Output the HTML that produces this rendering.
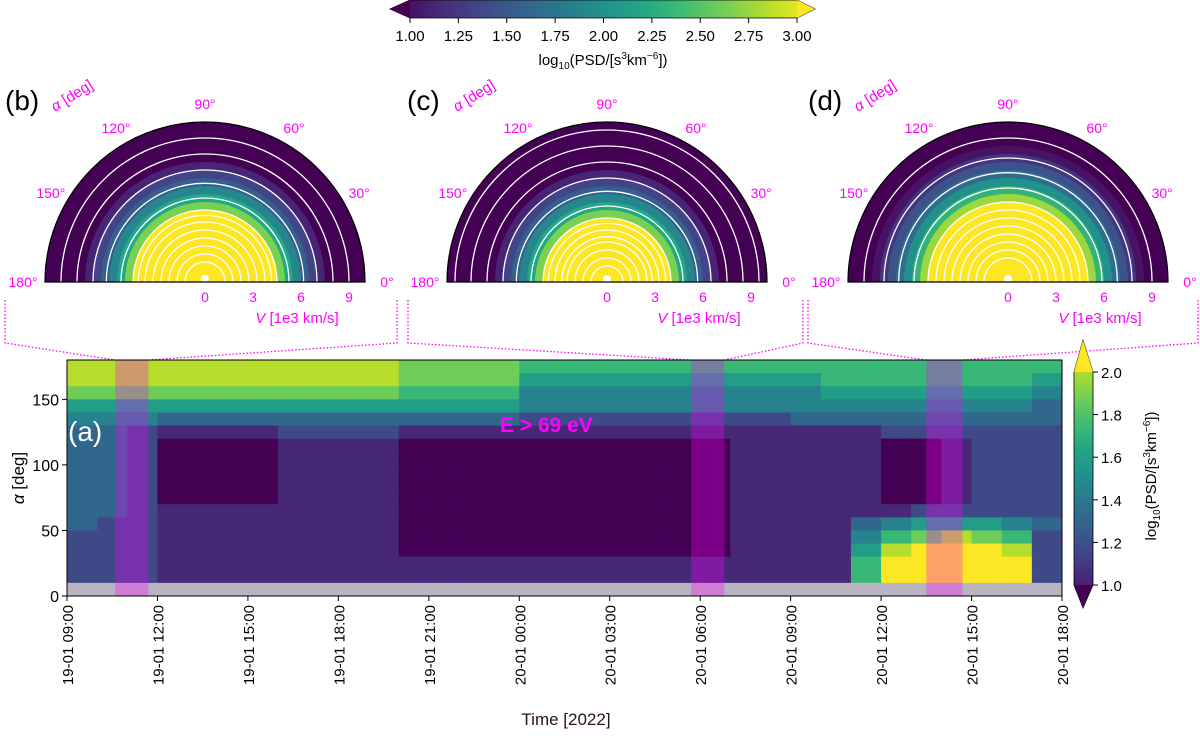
<!DOCTYPE html>
<html><head><meta charset="utf-8">
<style>
html,body{margin:0;padding:0;background:#fff;}
svg text{font-family:"Liberation Sans","DejaVu Sans",sans-serif;}
</style></head>
<body>
<svg id="fig" width="1200" height="740" viewBox="0 0 1200 740" xmlns="http://www.w3.org/2000/svg">
<defs>
<linearGradient id="vgH" x1="0" x2="1" y1="0" y2="0">
<stop offset="0" stop-color="#440154"/><stop offset="0.1" stop-color="#482475"/><stop offset="0.2" stop-color="#414487"/><stop offset="0.3" stop-color="#355f8d"/><stop offset="0.4" stop-color="#2a788e"/><stop offset="0.5" stop-color="#21918c"/><stop offset="0.6" stop-color="#22a884"/><stop offset="0.7" stop-color="#44bf70"/><stop offset="0.8" stop-color="#7ad151"/><stop offset="0.9" stop-color="#bddf26"/><stop offset="1" stop-color="#fde725"/>
</linearGradient>
<linearGradient id="vgV" x1="0" x2="0" y1="1" y2="0">
<stop offset="0" stop-color="#440154"/><stop offset="0.1" stop-color="#482475"/><stop offset="0.2" stop-color="#414487"/><stop offset="0.3" stop-color="#355f8d"/><stop offset="0.4" stop-color="#2a788e"/><stop offset="0.5" stop-color="#21918c"/><stop offset="0.6" stop-color="#22a884"/><stop offset="0.7" stop-color="#44bf70"/><stop offset="0.8" stop-color="#7ad151"/><stop offset="0.9" stop-color="#bddf26"/><stop offset="1" stop-color="#fde725"/>
</linearGradient>
</defs>

<g>
<polygon points="390,9 410,0 797,0 815,9 797,18 410,18" fill="url(#vgH)" stroke="#000" stroke-width="0.8"/>
<polygon points="390,9 410,0 410,18" fill="#440154"/>
<polygon points="815,9 797,0 797,18" fill="#fde725"/>
</g>
<g id="topTicks"></g>
<text x="603" y="65" font-size="15" text-anchor="middle">log<tspan font-size="10" dy="4">10</tspan><tspan dy="-4">(PSD/[s</tspan><tspan font-size="10" dy="-6">3</tspan><tspan dy="6">km</tspan><tspan font-size="10" dy="-6">−6</tspan><tspan dy="6">])</tspan></text>

<g id="polars"></g>
<g id="connectors"></g>

<g id="heat"></g>
<g id="bands"></g>
<rect x="67" y="360" width="995" height="236" fill="none" stroke="#000" stroke-width="1"/>
<g id="axes"></g>
<text x="68" y="441" font-size="28" fill="#fff">(a)</text>
<text x="500" y="432" font-size="21" font-weight="bold" fill="#ff00ff">E &gt; 69 eV</text>
<text transform="translate(24,478) rotate(-90)" font-size="17" text-anchor="middle"><tspan font-style="italic">α</tspan> [deg]</text>
<text x="566" y="725" font-size="17" text-anchor="middle" fill="#2b1414">Time [2022]</text>

<g>
<polygon points="1083,340 1093,372 1093,585 1083,608 1074,585 1074,372" fill="url(#vgV)" stroke="#000" stroke-width="0.8"/>
<polygon points="1083,340 1093,372 1074,372" fill="#fde725"/>
<polygon points="1083,608 1093,585 1074,585" fill="#440154"/>
</g>
<g id="rightTicks"></g>
<text transform="translate(1156,476) rotate(-90)" font-size="15" text-anchor="middle">log<tspan font-size="10" dy="4">10</tspan><tspan dy="-4">(PSD/[s</tspan><tspan font-size="10" dy="-6">3</tspan><tspan dy="6">km</tspan><tspan font-size="10" dy="-6">−6</tspan><tspan dy="6">])</tspan></text>
</svg>

<script>
// ---------- data ----------
var topTickLabels = ["1.00","1.25","1.50","1.75","2.00","2.25","2.50","2.75","3.00"];
var rightTickLabels = ["1.0","1.2","1.4","1.6","1.8","2.0"];
var yTicks = [0,50,100,150];
var timeLabels = ["19-01 09:00","19-01 12:00","19-01 15:00","19-01 18:00","19-01 21:00","20-01 00:00","20-01 03:00","20-01 06:00","20-01 09:00","20-01 12:00","20-01 15:00","20-01 18:00"];
// heatmap rows (top: 170-180 deg ... bottom: 0-10 deg), one char per hour from 19-01 09:00; value = 1 + d/9, 'w' = missing
var heatRows = [
"888888888887777666666666666666666",
"888888888887777555555555566666665",
"777777777776666444444444455555554",
"555555555555555444444444444444443",
"444333333333333222222222333333333",
"332111122221111111111111111222222",
"332000011110000000000011111001222",
"332000011110000000000011111001222",
"332000011110000000000011111001222",
"332000011110000000000011111001222",
"332000011110000000000011111001222",
"332111111110000000000011111122222",
"322111111110000000000011113455543",
"222111111110000000000011114678762",
"222111111110000000000011115899982",
"222111111111111111111111116999992",
"222111111111111111111111116999992",
"wwwwwwwwwwwwwwwwwwwwwwwwwwwwwwwww"
];
var bandStart = [1.6, 20.7, 28.5];
var bandEnd   = [2.7, 21.8, 29.7];
// radial PSD profiles at V = 0.5..10 (1e3 km/s)
var profB = [4.6,4.5,4.3,4.1,3.9,3.7,3.5,3.3,3.0,2.6,2.2,1.9,1.6,1.4,1.2,1.0,0.9,0.8,0.7,0.6];
var profC = [4.6,4.4,4.2,4.0,3.8,3.5,3.3,3.0,2.6,2.2,1.9,1.6,1.4,1.2,1.0,0.9,0.8,0.7,0.6,0.5];
var profD = [4.6,4.5,4.4,4.2,4.0,3.8,3.6,3.4,3.2,3.0,2.7,2.3,2.0,1.7,1.5,1.3,1.1,1.0,0.9,0.8];
var contourLevels = [0.6,0.8,1.0,1.4,1.8,2.4,3.0,3.2,3.4,3.6,3.8,4.0,4.2,4.4];
var polarNames = ["b","c","d"];
var polarCenters = [205,607,1008];
var vTicks = [0,3,6,9];
var angTicks = [0,30,60,90,120,150,180];

// ---------- helpers ----------
var NS="http://www.w3.org/2000/svg";
function mk(tag,attrs,parent,txt){var e=document.createElementNS(NS,tag);for(var k in attrs)e.setAttribute(k,attrs[k]);if(txt!==undefined)e.textContent=txt;parent.appendChild(e);return e;}
var stops=[[68,1,84],[72,36,117],[65,68,135],[53,95,141],[42,120,142],[33,145,140],[34,168,132],[68,191,112],[122,209,81],[189,223,38],[253,231,37]];
function viridis(t){t=Math.max(0,Math.min(1,t));var f=t*10,i=Math.min(9,Math.floor(f)),u=f-i;var a=stops[i],b=stops[i+1];
return "rgb("+Math.round(a[0]+(b[0]-a[0])*u)+","+Math.round(a[1]+(b[1]-a[1])*u)+","+Math.round(a[2]+(b[2]-a[2])*u)+")";}

var tt=document.getElementById('topTicks');
function xTop(v){return 410+(v-1)/2*387;}
topTickLabels.forEach(function(l){var x=xTop(parseFloat(l));
 var t=mk('line',{x1:x,x2:x,y1:18,y2:23,stroke:'#000'},tt);
 
 
 var s=mk('text',{x:x,y:41,'font-size':15,'text-anchor':'middle'},tt,l);
 
 
});

// ---------- polar panels ----------
var PR=160, baseY=282, pxPerV=PR/10;
var profs=[profB,profC,profD];
var pg=document.getElementById('polars');
profs.forEach(function(prof,pi){
 var cx=polarCenters[pi];
 var g=mk('g',{},pg);
 
 
 for(var k=prof.length-1;k>=0;k--){var r=(k+1)*0.5*pxPerV;
  var p=mk('path',{d:'M'+(cx-r)+','+baseY+' A'+r+','+r+' 0 0 1 '+(cx+r)+','+baseY+' Z',fill:viridis((prof[k]-1)/2)},g);
  
  
 }
 contourLevels.forEach(function(L){
  for(var k=0;k<prof.length-1;k++){
   if(prof[k]>=L&&prof[k+1]<L){var rv=(k+1)*0.5+(prof[k]-L)/(prof[k]-prof[k+1])*0.5;var r=rv*pxPerV;
    var c=mk('path',{d:'M'+(cx-r)+','+baseY+' A'+r+','+r+' 0 0 1 '+(cx+r)+','+baseY,fill:'none',stroke:'#fff','stroke-width':1.3},g);
    
    
   }
  }
 });
 mk('circle',{cx:cx,cy:baseY-3,r:4,fill:'#fff'},g);
 var fr=mk('path',{d:'M'+(cx-PR)+','+baseY+' A'+PR+','+PR+' 0 0 1 '+(cx+PR)+','+baseY+' Z',fill:'none',stroke:'#000','stroke-width':1.2},g);
 
 
 angTicks.forEach(function(a){var rr=PR+(a==0||a==180?22:18);var th=a*Math.PI/180;
  var x=cx+rr*Math.cos(th), y=baseY-rr*Math.sin(th)+5;
  var t=mk('text',{x:x,y:y,'font-size':14,fill:'#ff00ff','text-anchor':'middle'},g,a+'°');
  
  
 });
 vTicks.forEach(function(v){var t=mk('text',{x:cx+v*pxPerV,y:302,'font-size':14,fill:'#ff00ff','text-anchor':'middle'},g,String(v));
  
  
 });
 var vl=mk('text',{x:cx+92,y:323,'font-size':15,fill:'#ff00ff','text-anchor':'middle'},g);
 vl.innerHTML='<tspan font-style="italic">V</tspan> [1e3 km/s]';
 
 
 var al=mk('text',{transform:'translate('+(cx-150)+',112) rotate(-32)','font-size':15,fill:'#ff00ff'},g);
 al.innerHTML='<tspan font-style="italic">α</tspan> [deg]';
 
 
 var pl=mk('text',{x:cx-200,y:110,'font-size':28,fill:'#000'},g,'('+polarNames[pi]+')');
 
 
});

// ---------- heatmap ----------
var X0=67,X1=1062,Y0=596,Y1=360,H=33;
function xT(h){return X0+h*(X1-X0)/H;}
function yA(a){return Y0-a*(Y0-Y1)/180;}
var hg=document.getElementById('heat');
heatRows.forEach(function(row,ri){
 var aTop=180-ri*10;
 for(var h=0;h<row.length;h++){
  var ch=row[h];var col=(ch==='w')?'#b9b3c2':viridis(parseInt(ch)/9);
  var r=mk('rect',{x:xT(h),y:yA(aTop),width:xT(h+1)-xT(h)+0.5,height:yA(aTop-10)-yA(aTop)+0.5,fill:col},hg);
  
  
 }
});
var bg=document.getElementById('bands');
bandStart.forEach(function(s,i){
 var r=mk('rect',{x:xT(s),y:Y1,width:xT(bandEnd[i])-xT(s),height:Y0-Y1,fill:'#ff00ff','fill-opacity':0.3},bg);
 
 
});
var cg=document.getElementById('connectors');
var boxL=[5,408,808], boxR=[397,803,1198];
bandStart.forEach(function(s,i){
 var p=mk('polyline',{points:boxL[i]+',300 '+boxL[i]+',343 '+xT(s)+','+Y1,fill:'none',stroke:'#ff00ff','stroke-width':1.3,'stroke-dasharray':'1.5,2'},cg);
 
 
 var q=mk('polyline',{points:boxR[i]+',300 '+boxR[i]+',343 '+xT(bandEnd[i])+','+Y1,fill:'none',stroke:'#ff00ff','stroke-width':1.3,'stroke-dasharray':'1.5,2'},cg);
 
 
});

var ax=document.getElementById('axes');
yTicks.forEach(function(v){var y=yA(v);
 var t=mk('line',{x1:X0-5,x2:X0,y1:y,y2:y,stroke:'#000'},ax);
 
 
 var l=mk('text',{x:X0-8,y:y+6,'font-size':16,'text-anchor':'end'},ax,String(v));
 
 
});
timeLabels.forEach(function(lab,i){var x=xT(i*3);
 var t=mk('line',{x1:x,x2:x,y1:Y0,y2:Y0+5,stroke:'#000'},ax);
 
 
 var l=mk('text',{transform:'translate('+(x+6)+','+(Y0+9)+') rotate(-90)','font-size':15,'text-anchor':'end'},ax,lab);
 
 
});
var rt=document.getElementById('rightTicks');
rightTickLabels.forEach(function(l){var v=parseFloat(l);var y=585-(v-1)*213;
 var t=mk('line',{x1:1093,x2:1098,y1:y,y2:y,stroke:'#000'},rt);
 
 
 var s=mk('text',{x:1101,y:y+6,'font-size':15},rt,l);
 
 
});
</script>
</body></html>
